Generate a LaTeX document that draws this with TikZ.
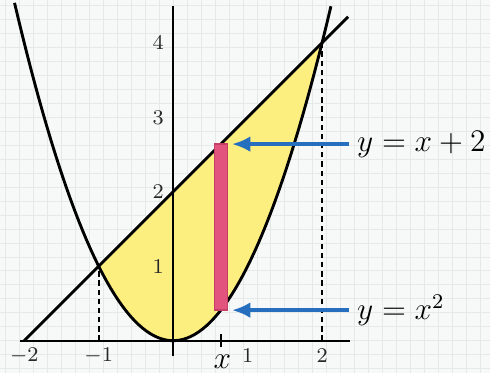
\documentclass[tikz,border=0pt]{standalone}
\definecolor{paper}{RGB}{247,249,248}
\definecolor{gridline}{RGB}{229,234,232}
\definecolor{regionyellow}{RGB}{253,238,128}
\definecolor{stripred}{RGB}{226,84,126}
\definecolor{stripborder}{RGB}{196,62,102}
\definecolor{arrowblue}{RGB}{38,110,190}
\definecolor{ticklabel}{RGB}{40,40,40}
\usepackage{tikz}
\usetikzlibrary{arrows.meta,positioning}

\begin{document}
\begin{tikzpicture}[
    curve/.style={line width=1.1pt,black},
    axis/.style={line width=0.7pt,black},
    guide/.style={dash pattern=on 2pt off 1.5pt,line width=0.7pt,black},
    pointer/.style={arrowblue,line width=1.4pt,-{Latex[length=7pt,width=6pt]}},
    ticktext/.style={font=\footnotesize\color{ticklabel},inner sep=1pt},
    eqtext/.style={font=\large,anchor=west,inner sep=3pt}]
  % paper background
  \fill[paper] (-2.32,-0.43) rectangle (4.25,4.57);
  \draw[gridline,line width=0.3pt,step=0.1875] (-2.32,-0.43) grid (4.25,4.57);
  \useasboundingbox (-2.32,-0.43) rectangle (4.25,4.57);
  % region between the curves
  \fill[regionyellow] plot[domain=-1:2,samples=60] (\x,{\x*\x}) -- cycle;
  \draw[guide] (-1,0) -- (-1,1);
  \draw[guide] (2,0) -- (2,4);
  % axes
  \draw[axis] (-2.05,0) -- (2.37,0);
  \draw[axis] (0,-0.21) -- (0,4.5);
  \draw[axis] (0.64,-0.09) -- (0.64,0.09);
  \foreach \t/\s in {-2/$-2$,-1/$-1$,1/1,2/2}
    \node[ticktext] (xt\t) at (\t,-0.2) {\s};
  \foreach \t in {1,...,4}
    \node[ticktext] (yt\t) at (-0.2,\t) {\t};
  \node[font=\large] (xlabel) at (0.66,-0.28) {$x$};
  % curves
  \draw[curve] plot[domain=-2.13:2.12,samples=80] (\x,{\x*\x});
  \draw[curve] (-2,0) -- (2.35,4.35);
  % strip
  \node[fill=stripred,draw=stripborder,line width=0.5pt,minimum width=0.175cm,
        minimum height=2.23cm,inner sep=0pt] (strip) at (0.64,1.525) {};
  \coordinate (striptop) at (0.79,2.64);
  \coordinate (stripbot) at (0.79,0.41);
  \node[eqtext] (eqline) at (2.36,2.64) {$y = x + 2$};
  \node[eqtext] (eqpara) at (2.36,0.41) {$y = x^2$};
  \draw[pointer] (eqline.west) -- (striptop);
  \draw[pointer] (eqpara.west) -- (stripbot);
\end{tikzpicture}
\end{document}
